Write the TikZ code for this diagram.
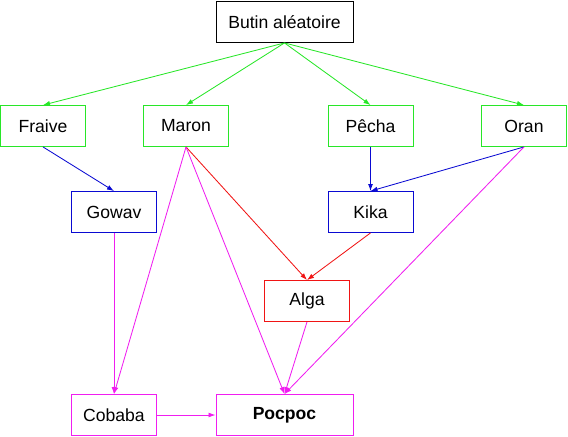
\documentclass[tikz,border=0pt]{standalone}
\usepackage{fontspec}
\setmainfont{Liberation Sans}
\usetikzlibrary{positioning, arrows.meta}
\definecolor{lootgreen}{RGB}{40,230,40}
\definecolor{lootblue}{RGB}{10,10,210}
\definecolor{lootred}{RGB}{240,20,20}
\definecolor{lootpink}{RGB}{240,30,240}
\tikzset{
    item/.style={
        draw,
        rectangle,
        minimum width=2.125cm,
        minimum height=1.025cm,
        inner sep=2pt,
        font=\fontsize{12.5}{14}\selectfont,
        line width=0.6pt,
    },
    bigitem/.style={
        item,
        minimum width=3.425cm,
    },
    link/.style={
        -{Latex[length=5pt,width=3.5pt]},
        line width=0.6pt,
    }
}

\begin{document}
\begin{tikzpicture}[x=0.025cm,y=-0.025cm]
                   \useasboundingbox (0,0) rectangle (568,436);
                   \node[bigitem] (loot) at (284.5,22) {Butin aléatoire};
                   \node[item, draw=lootgreen] (fraive) at (43,126) {Fraive};
                   \node[item, draw=lootgreen] (maron) at (186,126) {Maron};
                   \node[item, draw=lootgreen] (pecha) at (370.5,126) {Pêcha};
                   \node[item, draw=lootgreen] (oran) at (524,126) {Oran};
                   \node[item, draw=lootblue] (gowav) at (114,212) {Gowav};
                   \node[item, draw=lootblue] (kika) at (370.5,212) {Kika};
                   \node[item, draw=lootred] (alga) at (307,301) {Alga};
                   \node[item, draw=lootpink] (cobaba) at (114,415) {Cobaba};
                   \node[bigitem, draw=lootpink] (pocpoc) at (284.5,415) {\textbf{Pocpoc}};
                   \draw[link, lootgreen] (loot.south) to (fraive.north);
                   \draw[link, lootgreen] (loot.south) to (maron.north);
                   \draw[link, lootgreen] (loot.south) to (pecha.north);
                   \draw[link, lootgreen] (loot.south) to (oran.north);
                   \draw[link, lootblue] (fraive.south) to (gowav.north);
                   \draw[link, lootblue] (pecha.south) to (kika.north);
                   \draw[link, lootblue] (oran.south) to (kika.north);
                   \draw[link, lootred] (maron.south) to (alga.north);
                   \draw[link, lootred] (kika.south) to (alga.north);
                   \draw[link, lootpink] (maron.south) to (cobaba.north);
                   \draw[link, lootpink] (gowav.south) to (cobaba.north);
                   \draw[link, lootpink] (maron.south) to (pocpoc.north);
                   \draw[link, lootpink] (alga.south) to (pocpoc.north);
                   \draw[link, lootpink] (oran.south) to (pocpoc.north);
                   \draw[link, lootpink] (cobaba.east) to (pocpoc.west);
                   \end{tikzpicture}
\end{document}
